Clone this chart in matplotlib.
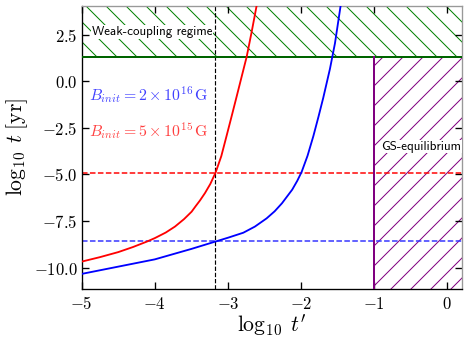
import matplotlib
matplotlib.use('Agg')
import matplotlib.pyplot as plt
from matplotlib.patches import Rectangle
from matplotlib.ticker import FuncFormatter

plt.rcParams['mathtext.fontset'] = 'cm'
plt.rcParams['hatch.linewidth'] = 0.6

# curves (log10 t' , log10 t)
red_x = [-5.0, -4.75, -4.5, -4.3, -4.111, -4.0, -3.85, -3.724, -3.6, -3.496, -3.44,
         -3.382, -3.313, -3.24, -3.167, -3.09, -3.017, -2.95, -2.88, -2.81,
         -2.743, -2.675, -2.606]
red_y = [-9.68, -9.44, -9.17, -8.9, -8.61, -8.42, -8.12, -7.80, -7.4, -7.0, -6.7,
         -6.4, -6.0, -5.51, -4.89, -4.02, -2.92, -1.9, -0.82, 0.27,
         1.31, 2.64, 4.07]
blue_x = [-5.0, -4.5, -4.0, -3.5, -3.167, -3.0, -2.789, -2.63, -2.47, -2.36, -2.26,
          -2.12, -2.05, -1.99, -1.91, -1.83, -1.76, -1.695, -1.603, -1.535, -1.457]
blue_y = [-10.34, -9.95, -9.56, -9.0, -8.6, -8.4, -8.13, -7.8, -7.36, -6.98, -6.55,
          -5.82, -5.34, -4.86, -4.0, -2.94, -1.9, -0.89, 0.67, 2.03, 4.06]

red_level = -4.91
blue_level = -8.6
t_cross = -3.17
weak_limit = 1.31
gs_limit = -1.0
xlims = (-5.0, 0.2)
ylims = (-11.15, 4.05)

fig = plt.figure(figsize=(3.9, 2.85), dpi=120)
ax = fig.add_axes([0.1746, 0.155, 0.812, 0.828])

# regimes
ax.add_patch(Rectangle((xlims[0], weak_limit), xlims[1] - xlims[0], ylims[1] - weak_limit,
                       facecolor='none', edgecolor='green', hatch='\\\\', lw=0, zorder=1))
ax.axhline(weak_limit, color='darkgreen', lw=1.2, zorder=3)
ax.add_patch(Rectangle((gs_limit, ylims[0]), xlims[1] - gs_limit, weak_limit - ylims[0],
                       facecolor='none', edgecolor='purple', hatch='//', lw=0, zorder=1))
ax.plot([gs_limit, gs_limit], [ylims[0], weak_limit], color='purple', lw=1.2, zorder=3)

ax.plot(red_x, red_y, color='red', lw=1.1, zorder=4)
ax.plot(blue_x, blue_y, color='blue', lw=1.1, zorder=4)
ax.axhline(red_level, color='red', ls='--', lw=0.9, zorder=2)
ax.axhline(blue_level, color='#3333ff', ls='--', lw=0.9, zorder=2)
ax.axvline(t_cross, color='black', ls='--', lw=0.7, zorder=2)

ax.text(-4.9, -0.74, r'$B_{init} = 2\times10^{16}\,\mathrm{G}$', color='blue', alpha=0.75,
        fontsize=9.5, va='center')
ax.text(-4.9, -2.71, r'$B_{init} = 5\times10^{15}\,\mathrm{G}$', color='red', alpha=0.75,
        fontsize=9.5, va='center')
ax.text(-4.86, 2.64, 'Weak-coupling regime', family='cmss10', fontsize=7.8, va='center',
        bbox=dict(facecolor='white', edgecolor='none', pad=0.5), zorder=5)
ax.text(-0.9, -3.51, 'GS-equilibrium', family='cmss10', fontsize=7.8, va='center',
        bbox=dict(facecolor='white', edgecolor='none', pad=0.5), zorder=5)

ax.set_xlim(*xlims)
ax.set_ylim(*ylims)
ax.set_yticks([2.5, 0.0, -2.5, -5.0, -7.5, -10.0])
ax.set_xticks([-5, -4, -3, -2, -1, 0])
ax.xaxis.set_major_formatter(FuncFormatter(lambda v, p: f'${v:.0f}$'))
ax.yaxis.set_major_formatter(FuncFormatter(lambda v, p: f'${v:.1f}$'))
ax.tick_params(direction='in', top=True, right=True, length=4, width=0.8, labelsize=10)
ax.tick_params(axis='y', pad=2.5)
for s in ['top', 'right']:
    ax.spines[s].set_color('0.6')
ax.set_xlabel(r"$\log_{10}\;t'$", fontsize=13)
ax.set_ylabel(r'$\log_{10}\;t\;[\mathrm{yr}]$', fontsize=13)
ax.xaxis.set_label_coords(0.5, -0.085)
ax.yaxis.set_label_coords(-0.136, 0.5)

fig.savefig('out.png', dpi=120)
